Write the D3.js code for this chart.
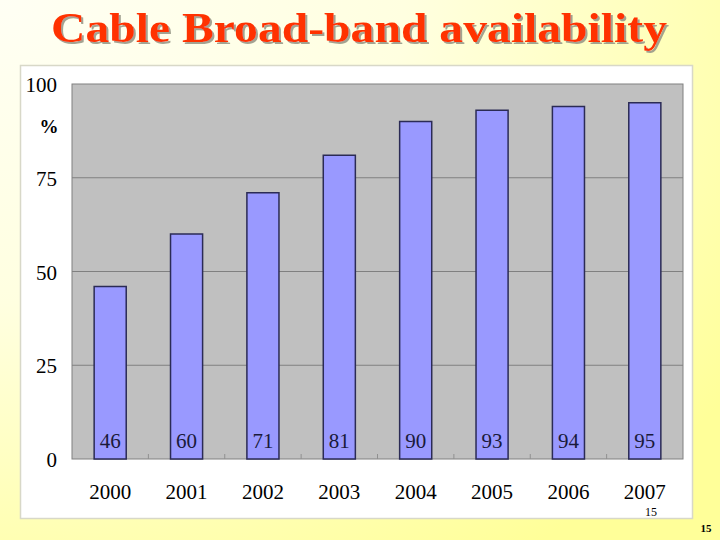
<!DOCTYPE html>
<html><head><meta charset="utf-8">
<script src="https://cdn.jsdelivr.net/npm/d3@7"></script>
<style>html,body{margin:0;padding:0;overflow:hidden;} text{font-family:"Liberation Serif","Times New Roman","DejaVu Serif",serif;}</style>
</head><body>
<script>
const years = ["2000","2001","2002","2003","2004","2005","2006","2007"];
const values = [46,60,71,81,90,93,94,95];
const yTicks = [0,25,50,75,100];
const title = "Cable Broad-band availability";

const W=720,H=540;
const svg=d3.select("body").append("svg").attr("width",W).attr("height",H);
const defs=svg.append("defs");
const g1=defs.append("radialGradient").attr("id","bg").attr("cx","0").attr("cy","0").attr("r","1.25").attr("gradientUnits","objectBoundingBox");
g1.append("stop").attr("offset","0").attr("stop-color","#FFFFF4");
g1.append("stop").attr("offset","0.45").attr("stop-color","#FFFFE0");
g1.append("stop").attr("offset","1").attr("stop-color","#FFFF99");
const f=defs.append("filter").attr("id","sh").attr("x","-5%").attr("y","-20%").attr("width","110%").attr("height","140%");
f.append("feDropShadow").attr("dx",2).attr("dy",2).attr("stdDeviation",0.6).attr("flood-color","#999988").attr("flood-opacity",0.9);
svg.append("rect").attr("width",W).attr("height",H).attr("fill","url(#bg)");

// title with shadow
svg.append("text").attr("x",359).attr("y",42).attr("text-anchor","middle")
 .attr("font-weight","bold").attr("font-size",43).attr("filter","url(#sh)")
 .attr("textLength",616).attr("lengthAdjust","spacingAndGlyphs")
 .attr("fill","#FF3300").text(title);

// white panel
svg.append("rect").attr("x",20.5).attr("y",65.5).attr("width",672).attr("height",453)
 .attr("fill","#FFFFFF").attr("stroke","#D8D8C8").attr("stroke-width",1.5);

const L=72,R=683,T=84,B=459;
const x=d3.scaleBand().domain(years).range([L,R]).paddingInner(0.58).paddingOuter(0.29);
const y=d3.scaleLinear().domain([0,100]).range([B,T]);

svg.append("rect").attr("x",L).attr("y",T).attr("width",R-L).attr("height",B-T)
 .attr("fill","#C0C0C0").attr("stroke","#808080").attr("stroke-width",1);

svg.append("g").selectAll("line").data(yTicks.filter(d=>d>0&&d<100)).join("line")
 .attr("x1",L).attr("x2",R).attr("y1",d=>y(d)).attr("y2",d=>y(d))
 .attr("stroke","#808080").attr("stroke-width",1);

// category boundary ticks
svg.append("g").selectAll("line").data(d3.range(1,years.length)).join("line")
 .attr("x1",d=>L+d*(R-L)/years.length).attr("x2",d=>L+d*(R-L)/years.length)
 .attr("y1",B).attr("y2",B-5).attr("stroke","#909090").attr("stroke-width",1);

svg.append("g").selectAll("rect").data(values).join("rect")
 .attr("x",(d,i)=>x(years[i])).attr("width",x.bandwidth())
 .attr("y",d=>y(d)).attr("height",d=>B-y(d))
 .attr("fill","#9999FF").attr("stroke","#2B2B55").attr("stroke-width",1.5);

svg.append("g").selectAll("text").data(values).join("text")
 .attr("x",(d,i)=>x(years[i])+x.bandwidth()/2).attr("y",448)
 .attr("text-anchor","middle").attr("font-size",21)
 .attr("fill","#1A1A3A").text(d=>d);

// y axis labels
svg.append("g").selectAll("text").data(yTicks).join("text")
 .attr("x",57).attr("y",d=>y(d)+8).attr("text-anchor","end")
 .attr("font-size",21).attr("fill","#000").text(d=>d);
svg.append("text").attr("x",49).attr("y",133).attr("text-anchor","middle")
 .attr("font-weight","bold").attr("font-size",19).text("%");

// x labels
svg.append("g").selectAll("text").data(years).join("text")
 .attr("x",d=>x(d)+x.bandwidth()/2).attr("y",499).attr("text-anchor","middle")
 .attr("font-size",21).attr("fill","#000").text(d=>d);

svg.append("text").attr("x",651).attr("y",516).attr("text-anchor","middle")
 .attr("font-size",12).text("15");
svg.append("text").attr("x",706).attr("y",532).attr("text-anchor","middle")
 .attr("font-weight","bold").attr("font-size",11).text("15");
</script>
</body></html>
